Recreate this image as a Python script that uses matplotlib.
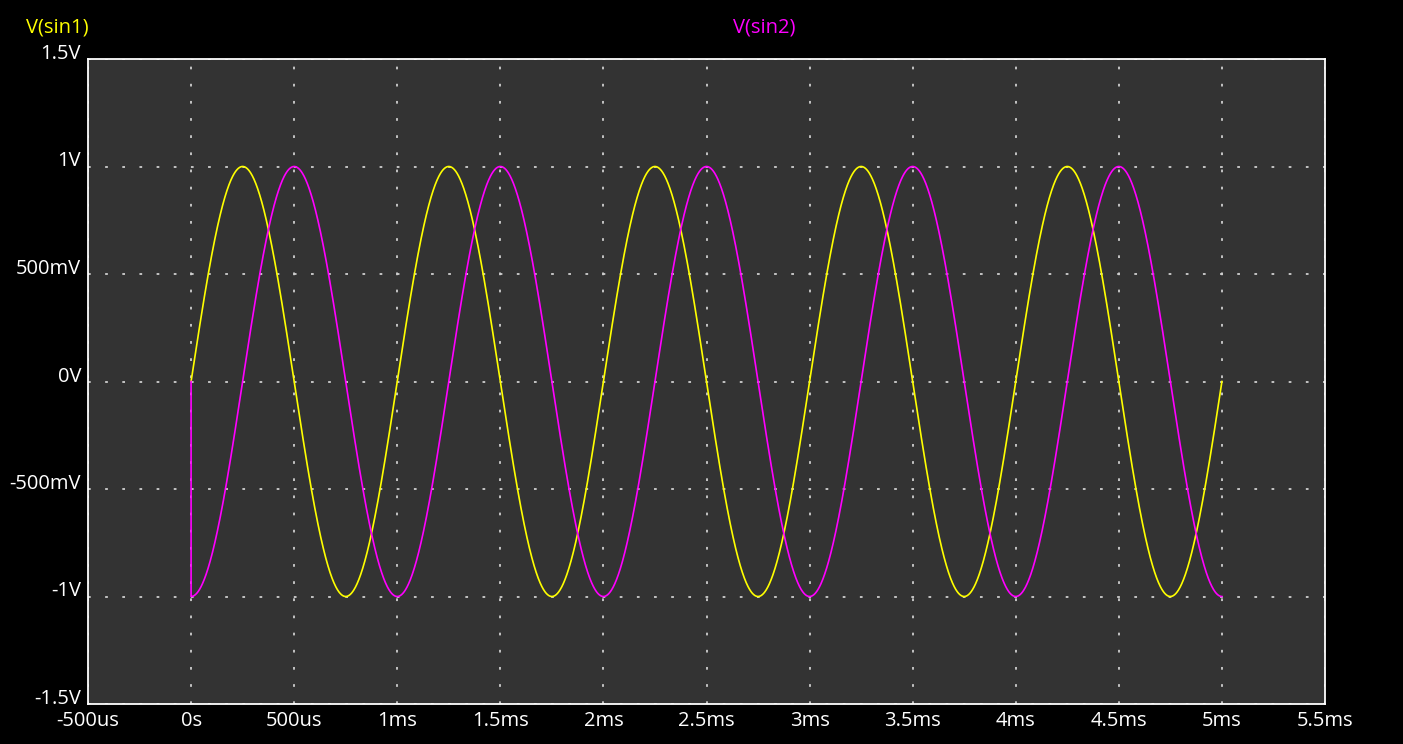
import numpy as np
import matplotlib.pyplot as plt
from matplotlib.ticker import FixedLocator
from matplotlib.transforms import ScaledTranslation

plt.rcParams['font.family'] = ['Open Sans', 'DejaVu Sans']

# SPICE sine source settings
freq_hz = [1000.0, 1000.0]
amplitude_v = [1.0, 1.0]
phase_deg = [0.0, -90.0]
sim_stop_s = 5e-3
trace_names = ["V(sin1)", "V(sin2)"]
trace_colors = ["#ffff00", "#ff00ff"]

x_ticks = [-500e-6, 0, 500e-6, 1e-3, 1.5e-3, 2e-3, 2.5e-3, 3e-3, 3.5e-3, 4e-3, 4.5e-3, 5e-3, 5.5e-3]
x_labels = ["-500us", "0s", "500us", "1ms", "1.5ms", "2ms", "2.5ms", "3ms", "3.5ms", "4ms", "4.5ms", "5ms", "5.5ms"]
y_ticks = [-1.5, -1.0, -0.5, 0.0, 0.5, 1.0, 1.5]
y_labels = ["-1.5V", "-1V", "-500mV", "0V", "500mV", "1V", "1.5V"]

t = np.linspace(0, sim_stop_s, 4001)

fig = plt.figure(figsize=(14.03, 7.44), dpi=100, facecolor="black")
ax = fig.add_axes([88 / 1403, 40 / 744, 1237 / 1403, 645 / 744])
ax.set_facecolor("#333333")

for f, a, ph, col in zip(freq_hz, amplitude_v, phase_deg, trace_colors):
    v = a * np.sin(2 * np.pi * f * t + np.deg2rad(ph))
    # the source output begins at 0V at t=0 before the first step
    tt = np.concatenate([[0.0], t])
    vv = np.concatenate([[0.0], v])
    ax.plot(tt, vv, color=col, lw=1.2, zorder=3)

ax.set_xlim(x_ticks[0], x_ticks[-1])
ax.set_ylim(y_ticks[0], y_ticks[-1])
ax.xaxis.set_major_locator(FixedLocator(x_ticks))
ax.yaxis.set_major_locator(FixedLocator(y_ticks))
ax.set_xticklabels(x_labels)
ax.set_yticklabels(y_labels)
ax.tick_params(colors="white", labelsize=14.5, length=0)
ax.tick_params(axis="y", pad=5)
ax.tick_params(axis="x", pad=5)
ax.grid(True, color="#cfcfcf", linestyle=(0, (1.5, 8)), linewidth=1.3)

# y labels sit a little above their grid lines
lift = ScaledTranslation(0, 0.075, fig.dpi_scale_trans)
for lab in ax.get_yticklabels():
    lab.set_transform(lab.get_transform() + lift)

for s in ax.spines.values():
    s.set_color("white")
    s.set_linewidth(1.3)

fig.text(57 / 1403, 1 - 27 / 744, trace_names[0], color=trace_colors[0],
         fontsize=14.5, ha="center", va="center")
fig.text(764 / 1403, 1 - 27 / 744, trace_names[1], color=trace_colors[1],
         fontsize=14.5, ha="center", va="center")

fig.savefig("out.png", dpi=100, facecolor="black")
